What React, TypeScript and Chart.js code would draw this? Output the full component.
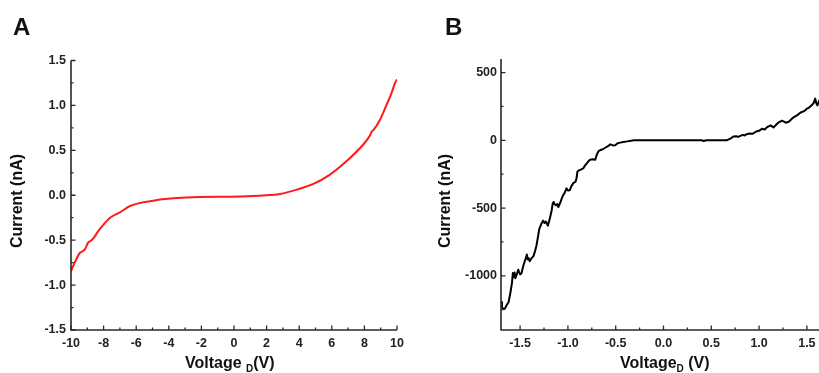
import { useEffect, useRef } from 'react';
import { Chart, registerables } from 'chart.js';

Chart.register(...registerables);

// ---- Panel A data ----
const voltageA = [-10, -9.75, -9.45, -9.3, -9.14, -8.94, -8.8, -8.63, -8.33, -8.02, -7.6, -7.0, -6.38, -5.77, -5.15, -4.54, -3.5, -2.1, -0.25, 0.37, 1.8, 2.82, 3.85, 4.87, 5.89, 6.91, 7.93, 8.34, 8.45, 8.55, 8.96, 9.37, 9.67, 9.88, 10];
const currentA = [-0.845, -0.74, -0.64, -0.625, -0.6, -0.525, -0.51, -0.48, -0.4, -0.33, -0.25, -0.19, -0.12, -0.086, -0.067, -0.048, -0.03, -0.02, -0.017, -0.015, -0.003, 0.015, 0.063, 0.126, 0.23, 0.38, 0.565, 0.665, 0.71, 0.725, 0.84, 1.01, 1.14, 1.25, 1.29];
const xTicksA = [-10, -8, -6, -4, -2, 0, 2, 4, 6, 8, 10];
const yTicksA = [-1.5, -1.0, -0.5, 0.0, 0.5, 1.0, 1.5];

// ---- Panel B data ----
const voltageB = [-1.7, -1.69, -1.675, -1.66, -1.64, -1.62, -1.6, -1.585, -1.576, -1.567, -1.558, -1.55, -1.535, -1.52, -1.51, -1.5, -1.485, -1.47, -1.455, -1.44, -1.43, -1.42, -1.41, -1.4, -1.38, -1.36, -1.345, -1.33, -1.315, -1.3, -1.28, -1.26, -1.245, -1.23, -1.21, -1.19, -1.17, -1.16, -1.15, -1.14, -1.125, -1.11, -1.1, -1.08, -1.065, -1.05, -1.035, -1.015, -1.0, -0.98, -0.965, -0.945, -0.93, -0.92, -0.91, -0.9, -0.88, -0.86, -0.837, -0.82, -0.8, -0.78, -0.767, -0.74, -0.714, -0.7, -0.68, -0.66, -0.64, -0.61, -0.585, -0.57, -0.557, -0.53, -0.505, -0.48, -0.453, -0.42, -0.38, -0.34, -0.31, 0.0, 0.4, 0.42, 0.45, 0.66, 0.7, 0.73, 0.76, 0.78, 0.83, 0.85, 0.87, 0.9, 0.93, 0.97, 1.0, 1.03, 1.06, 1.08, 1.12, 1.15, 1.2, 1.24, 1.28, 1.31, 1.36, 1.4, 1.43, 1.47, 1.5, 1.52, 1.55, 1.57, 1.587, 1.6, 1.61, 1.63, 1.66];
const currentB = [-1193, -1230, -1245, -1243, -1215, -1193, -1118, -1050, -980, -1010, -975, -1018, -990, -955, -975, -990, -980, -935, -900, -870, -843, -880, -870, -893, -870, -855, -820, -780, -720, -655, -620, -593, -610, -600, -630, -580, -518, -470, -455, -470, -480, -470, -493, -460, -430, -405, -390, -355, -370, -368, -340, -318, -310, -305, -280, -230, -220, -215, -205, -185, -168, -150, -143, -140, -143, -110, -80, -72, -68, -55, -45, -38, -30, -38, -37, -22, -17, -12, -8, -3, 0, 0, 0, -5, 0, 0, 12, 28, 30, 25, 40, 36, 45, 50, 48, 65, 70, 85, 80, 95, 110, 95, 130, 145, 130, 137, 170, 185, 203, 215, 233, 240, 258, 275, 308, 270, 258, 295, 310];
const xTicksB = [-1.5, -1.0, -0.5, 0.0, 0.5, 1.0, 1.5];
const yTicksB = [-1000, -500, 0, 500];

const FONT = "'Liberation Sans', Arial, sans-serif";
const TXT = '#222';

type PanelOpts = {
  letter: string;
  letterX: number;
  yTitleX: number;
  yTitleY: number;
  xTitleX: number;
  xTitleY: number;
  xPre: string;
  xPost: string;
};

const customPlugin = {
  id: 'customAxes',
  afterDraw(chart: any, _args: any, opts: PanelOpts & { xMajors: number[]; yMajors: number[] }) {
    const { ctx, chartArea: a, scales } = chart;
    const xs = scales.x;
    const ys = scales.y;
    ctx.save();
    ctx.strokeStyle = '#2a2a2a';
    ctx.lineWidth = 1.6;
    ctx.beginPath();
    ctx.moveTo(a.left, a.top);
    ctx.lineTo(a.left, a.bottom);
    ctx.lineTo(a.right, a.bottom);
    ctx.stroke();

    const minorOf = (arr: number[], min: number, max: number) => {
      const out: number[] = [];
      const step = arr[1] - arr[0];
      out.push(arr[0] - step / 2);
      for (let i = 0; i < arr.length - 1; i++) out.push((arr[i] + arr[i + 1]) / 2);
      out.push(arr[arr.length - 1] + step / 2);
      return out.filter((v) => v >= min && v <= max);
    };

    ctx.lineWidth = 1.3;
    ctx.beginPath();
    const xMaj = opts.xMajors;
    const yMaj = opts.yMajors;
    xMaj.forEach((v) => {
      const p = xs.getPixelForValue(v);
      ctx.moveTo(p, a.bottom);
      ctx.lineTo(p, a.bottom - 4.5);
    });
    minorOf(xMaj, xs.min, xs.max).forEach((v) => {
      const p = xs.getPixelForValue(v);
      ctx.moveTo(p, a.bottom);
      ctx.lineTo(p, a.bottom - 2.5);
    });
    yMaj.forEach((v) => {
      const p = ys.getPixelForValue(v);
      ctx.moveTo(a.left, p);
      ctx.lineTo(a.left + 4.5, p);
    });
    minorOf(yMaj, ys.min, ys.max).forEach((v) => {
      const p = ys.getPixelForValue(v);
      ctx.moveTo(a.left, p);
      ctx.lineTo(a.left + 2.5, p);
    });
    ctx.stroke();

    ctx.fillStyle = '#111';
    ctx.font = `bold 24px ${FONT}`;
    ctx.textAlign = 'left';
    ctx.textBaseline = 'alphabetic';
    ctx.fillText(opts.letter, opts.letterX, 35);

    ctx.save();
    ctx.translate(opts.yTitleX, opts.yTitleY);
    ctx.rotate(-Math.PI / 2);
    ctx.font = `bold 16px ${FONT}`;
    ctx.textAlign = 'center';
    ctx.textBaseline = 'middle';
    ctx.fillText('Current (nA)', 0, 0);
    ctx.restore();

    ctx.font = `bold 16px ${FONT}`;
    ctx.textAlign = 'left';
    ctx.textBaseline = 'alphabetic';
    let x = opts.xTitleX;
    ctx.fillText(opts.xPre, x, opts.xTitleY);
    x += ctx.measureText(opts.xPre).width;
    ctx.font = `bold 10px ${FONT}`;
    ctx.fillText('D', x, opts.xTitleY + 4);
    x += ctx.measureText('D').width;
    ctx.font = `bold 16px ${FONT}`;
    ctx.fillText(opts.xPost, x, opts.xTitleY);
    ctx.restore();
  },
};

function makeConfig(
  xs: number[],
  ys: number[],
  color: string,
  smooth: boolean,
  xMin: number,
  xMax: number,
  yMin: number,
  yMax: number,
  xMajors: number[],
  yMajors: number[],
  xFmt: (v: number) => string,
  yFmt: (v: number) => string,
  yWidth: number,
  pad: { top: number; right: number },
  yPad: number,
  panel: PanelOpts
): any {
  return {
    type: 'line',
    data: {
      datasets: [
        {
          data: xs.map((x, i) => ({ x, y: ys[i] })),
          borderColor: color,
          borderWidth: 2,
          pointRadius: 0,
          tension: smooth ? 0.4 : 0,
          cubicInterpolationMode: smooth ? 'monotone' : 'default',
          borderJoinStyle: 'round',
          fill: false,
        },
      ],
    },
    options: {
      animation: false,
      responsive: false,
      maintainAspectRatio: false,
      layout: { padding: { top: pad.top, right: pad.right, left: 0, bottom: 0 } },
      plugins: {
        legend: { display: false },
        tooltip: { enabled: false },
        customAxes: { ...panel, xMajors, yMajors },
      },
      scales: {
        x: {
          type: 'linear',
          min: xMin,
          max: xMax,
          grid: { display: false, drawTicks: false },
          border: { display: false },
          afterBuildTicks: (s: any) => {
            s.ticks = xMajors.map((v) => ({ value: v }));
          },
          afterFit: (s: any) => {
            s.height = 43;
          },
          ticks: {
            autoSkip: false,
            maxRotation: 0,
            padding: 6,
            color: TXT,
            font: { family: FONT, size: 12.5, weight: 'bold' },
            callback: (v: any) => xFmt(Number(v)),
          },
        },
        y: {
          type: 'linear',
          min: yMin,
          max: yMax,
          grid: { display: false, drawTicks: false },
          border: { display: false },
          afterBuildTicks: (s: any) => {
            s.ticks = yMajors.map((v) => ({ value: v }));
          },
          afterFit: (s: any) => {
            s.width = yWidth;
          },
          ticks: {
            autoSkip: false,
            padding: yPad,
            color: TXT,
            font: { family: FONT, size: 12.5, weight: 'bold' },
            callback: (v: any) => yFmt(Number(v)),
          },
        },
      },
    },
    plugins: [customPlugin],
  };
}

export default function App() {
  const refA = useRef<HTMLCanvasElement>(null);
  const refB = useRef<HTMLCanvasElement>(null);

  useEffect(() => {
    const chartA = new Chart(
      refA.current as HTMLCanvasElement,
      makeConfig(
        voltageA,
        currentA,
        '#ff1a1a',
        true,
        -10,
        10,
        -1.5,
        1.5,
        xTicksA,
        yTicksA,
        (v) => String(v),
        (v) => v.toFixed(1),
        71,
        { top: 60.5, right: 13 },
        5,
        {
          letter: 'A',
          letterX: 13,
          yTitleX: 18,
          yTitleY: 201,
          xTitleX: 185,
          xTitleY: 368,
          xPre: 'Voltage ',
          xPost: '(V)',
        }
      )
    );
    const chartB = new Chart(
      refB.current as HTMLCanvasElement,
      makeConfig(
        voltageB,
        currentB,
        '#000000',
        false,
        -1.7,
        1.7,
        -1400,
        600,
        xTicksB,
        yTicksB,
        (v) => v.toFixed(1),
        (v) => String(v),
        91,
        { top: 59, right: 14 },
        4,
        {
          letter: 'B',
          letterX: 35,
          yTitleX: 36,
          yTitleY: 201,
          xTitleX: 210,
          xTitleY: 368,
          xPre: 'Voltage',
          xPost: ' (V)',
        }
      )
    );
    return () => {
      chartA.destroy();
      chartB.destroy();
    };
  }, []);

  return (
    <div
      style={{
        position: 'absolute',
        left: 0,
        top: 0,
        width: 819,
        height: 373,
        overflow: 'hidden',
        background: '#fff',
      }}
    >
      <canvas
        ref={refA}
        width={410}
        height={373}
        style={{ position: 'absolute', left: 0, top: 0, width: 410, height: 373 }}
      />
      <canvas
        ref={refB}
        width={430}
        height={373}
        style={{ position: 'absolute', left: 410, top: 0, width: 430, height: 373 }}
      />
    </div>
  );
}
